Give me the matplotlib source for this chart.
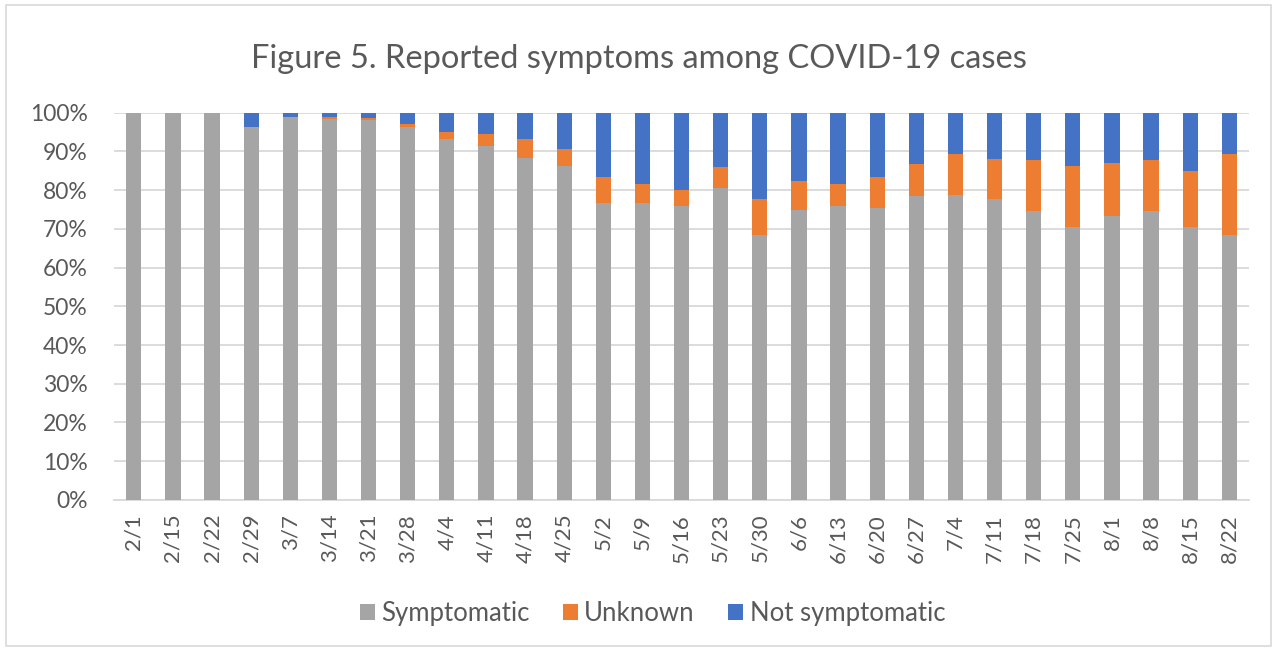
import matplotlib
matplotlib.use("Agg")
import matplotlib.pyplot as plt
from matplotlib.patches import Rectangle
from matplotlib.ticker import MultipleLocator, PercentFormatter
import numpy as np

dates = ["2/1", "2/15", "2/22", "2/29", "3/7", "3/14", "3/21", "3/28", "4/4", "4/11",
         "4/18", "4/25", "5/2", "5/9", "5/16", "5/23", "5/30", "6/6", "6/13", "6/20",
         "6/27", "7/4", "7/11", "7/18", "7/25", "8/1", "8/8", "8/15", "8/22"]
symptomatic = [100, 100, 100, 96.2, 98.8, 98.3, 98.0, 96.2, 93.1, 91.4,
               88.2, 86.3, 76.6, 76.6, 75.8, 80.6, 68.3, 74.8, 75.8, 75.4,
               78.4, 78.8, 77.7, 74.7, 70.6, 73.2, 74.7, 70.6, 68.3]
unknown = [0, 0, 0, 0, 0, 0.6, 0.5, 0.9, 1.9, 3.0,
           4.9, 4.3, 6.7, 4.9, 4.1, 5.4, 9.4, 7.5, 5.7, 7.9,
           8.3, 10.6, 10.2, 13.1, 15.7, 13.9, 13.1, 14.2, 21.1]
not_symptomatic = [0, 0, 0, 3.8, 1.2, 1.1, 1.5, 2.9, 5.0, 5.6,
                   6.9, 9.4, 16.7, 18.5, 20.1, 14.0, 22.3, 17.7, 18.5, 16.7,
                   13.3, 10.6, 12.1, 12.2, 13.7, 12.9, 12.2, 15.2, 10.6]

sym = np.array(symptomatic)
unk = np.array(unknown)
nots = np.array(not_symptomatic)
x = np.arange(len(dates))

plt.rcParams['font.family'] = ['Lato', 'DejaVu Sans']
txt = '#595959'

fig = plt.figure(figsize=(12.77, 6.51), dpi=100)
ax = fig.add_axes([0.0895, 0.232, 0.8885, 0.595])

w = 0.39
ax.bar(x, sym, w, color='#a5a5a5', label='Symptomatic', zorder=3)
ax.bar(x, unk, w, bottom=sym, color='#ed7d31', label='Unknown', zorder=3)
ax.bar(x, nots, w, bottom=sym + unk, color='#4472c4', label='Not symptomatic', zorder=3)

ax.set_xlim(-0.5, len(dates) - 0.5)
ax.set_ylim(0, 100)
ax.yaxis.set_major_locator(MultipleLocator(10))
ax.yaxis.set_major_formatter(PercentFormatter(decimals=0))
ax.grid(axis='y', color='#d9d9d9', linewidth=1.3, zorder=0)
for s in ['top', 'right', 'left']:
    ax.spines[s].set_visible(False)
ax.spines['bottom'].set_color('#d9d9d9')
ax.spines['bottom'].set_linewidth(1.3)
ax.set_xticks(x)
ax.set_xticklabels(dates, rotation=90, fontsize=16, color=txt)
ax.tick_params(axis='both', length=0, colors=txt)
ax.tick_params(axis='y', labelsize=16.5, pad=19)
ax.tick_params(axis='x', pad=10)

fig.text(0.5, 0.91, 'Figure 5. Reported symptoms among COVID-19 cases', ha='center',
         va='center', fontsize=23.5, color=txt)

leg = fig.legend(loc='center', bbox_to_anchor=(0.511, 0.058), ncol=3, frameon=False,
                 fontsize=18.5, handlelength=0.58, handleheight=0.58, columnspacing=1.3,
                 handletextpad=0.25)
for t in leg.get_texts():
    t.set_color(txt)

fig.patches.append(Rectangle((0.005, 0.008), 0.99, 0.985, transform=fig.transFigure,
                             fill=False, edgecolor='#d9d9d9', linewidth=1.2))

fig.savefig('out.png', dpi=100, facecolor='white')
